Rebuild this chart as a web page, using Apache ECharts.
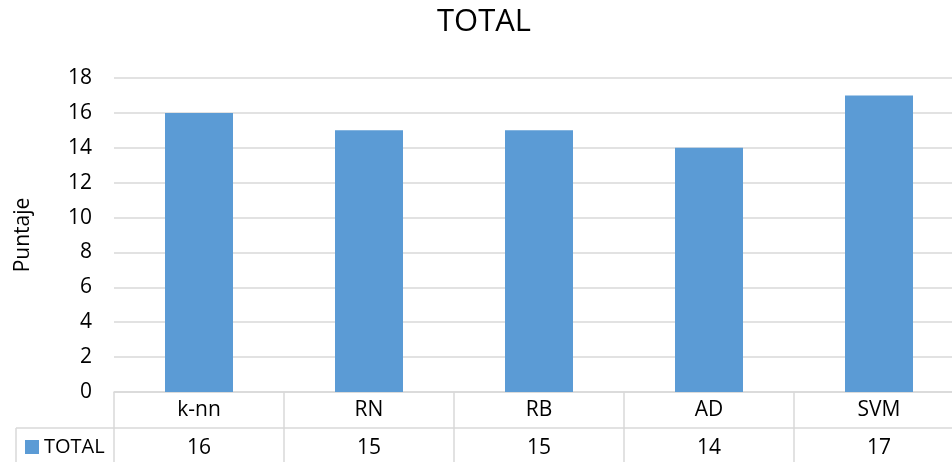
<!DOCTYPE html>
<html>
<head>
<meta charset="utf-8">
<script src="https://cdn.jsdelivr.net/npm/echarts@6/dist/echarts.min.js"></script>
<style>
  html, body { margin: 0; padding: 0; background: #fff; }
  #chart { width: 952px; height: 462px; }
</style>
</head>
<body>
<div id="chart"></div>
<script>
// Scores per classifier
const categories = ['k-nn', 'RN', 'RB', 'AD', 'SVM'];
const totalValues = [16, 15, 15, 14, 17];
const seriesName = 'TOTAL';
const yTicks = { min: 0, max: 18, interval: 2 };

const FONT = '"Open Sans", sans-serif';
const LINE = '#d9d9d9';
const TEXT = '#000000';
const FS = 21;

const chart = echarts.init(document.getElementById('chart'));

chart.setOption({
  animation: false,
  title: {
    text: 'TOTAL',
    left: 432,
    top: 2,
    textStyle: { fontFamily: FONT, fontSize: 31, fontWeight: 'normal', color: TEXT }
  },
  legend: {
    data: [seriesName],
    left: 25,
    top: 437,
    padding: 0,
    itemWidth: 14,
    itemHeight: 14,
    icon: 'rect',
    itemGap: 6,
    textStyle: { fontFamily: FONT, fontSize: 20, color: TEXT }
  },
  // the plot runs a little past the right edge, so the last column is clipped
  grid: { left: 114, width: 850, top: 78, bottom: 70, outerBoundsMode: 'none', containLabel: false },
  xAxis: [
    {
      type: 'category',
      data: categories,
      position: 'bottom',
      axisLine: { show: true, lineStyle: { color: LINE, width: 1.5 } },
      axisTick: { show: true, length: 80, lineStyle: { color: LINE, width: 1.5 } },
      axisLabel: { margin: 8, fontFamily: FONT, fontSize: FS, color: TEXT }
    },
    {
      type: 'category',
      data: totalValues.map(String),
      position: 'bottom',
      offset: 36,
      axisLine: { show: true, lineStyle: { color: LINE, width: 1.5 } },
      axisTick: { show: false },
      axisLabel: { margin: 10, fontFamily: FONT, fontSize: FS, color: TEXT }
    }
  ],
  yAxis: {
    type: 'value',
    min: yTicks.min,
    max: yTicks.max,
    interval: yTicks.interval,
    name: 'Puntaje',
    nameLocation: 'middle',
    nameGap: 80,
    nameTextStyle: { fontFamily: FONT, fontSize: FS, color: TEXT },
    axisLine: { show: false },
    axisTick: { show: false },
    axisLabel: { margin: 22, fontFamily: FONT, fontSize: FS, color: TEXT },
    splitLine: { lineStyle: { color: LINE, width: 1.5 } }
  },
  series: [
    {
      name: seriesName,
      type: 'bar',
      data: totalValues,
      barWidth: '40%',
      itemStyle: { color: '#5b9bd5' }
    }
  ],
  graphic: [
    // legend cell borders of the data table
    { type: 'line', shape: { x1: 16, y1: 428, x2: 114, y2: 428 }, style: { stroke: LINE, lineWidth: 1.5 } },
    { type: 'line', shape: { x1: 16, y1: 428, x2: 16, y2: 462 }, style: { stroke: LINE, lineWidth: 1.5 } }
  ]
});
</script>
</body>
</html>
